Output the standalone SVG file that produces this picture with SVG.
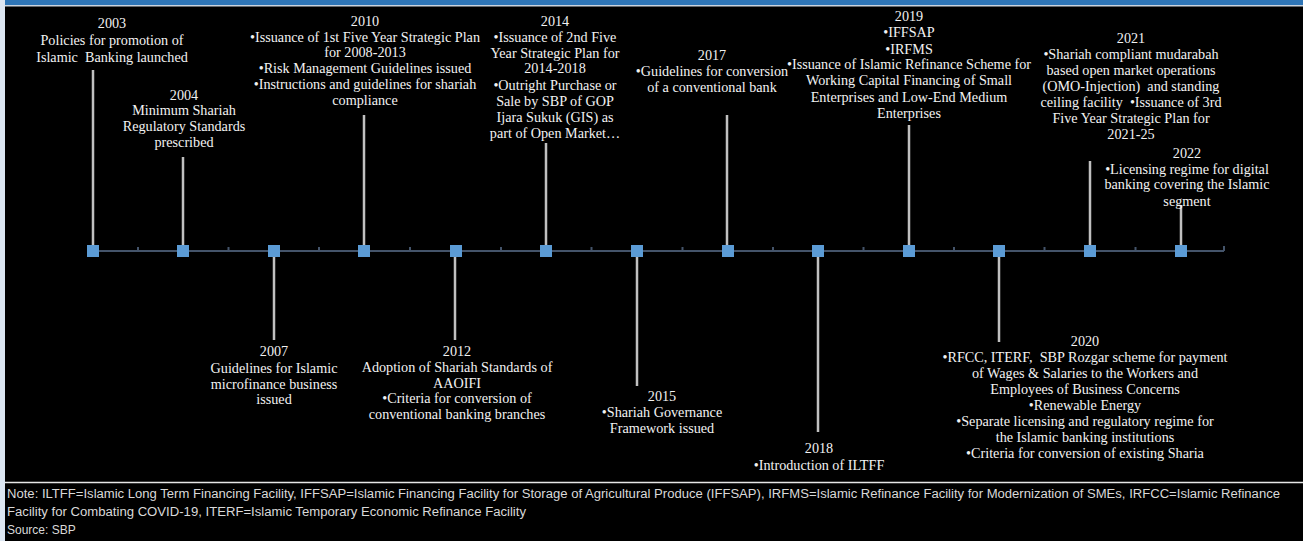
<svg xmlns="http://www.w3.org/2000/svg" width="1303" height="541" viewBox="0 0 1303 541">
<style>
.t{font-family:"Liberation Serif","Times New Roman",serif;font-size:14.2px;fill:#f2f2f2;text-anchor:middle}
.n{font-family:"Liberation Sans",Arial,sans-serif;font-size:12px;fill:#d9d9d9}
.c{stroke:#c0c0c0;stroke-width:2.5;fill:none}
.m{fill:#5b9bd5}
.ax{stroke:#44546a;stroke-width:2;fill:none}
</style>
<rect x="0" y="0" width="1303" height="541" fill="#000"/>
<rect x="0" y="0" width="5" height="541" fill="#dce6f2"/>
<rect x="5" y="0" width="1298" height="5" fill="#2e75b6"/>
<rect x="5" y="5" width="1298" height="1.5" fill="#c9d3de"/>
<line x1="5" y1="482.5" x2="1303" y2="482.5" stroke="#e6e6e6" stroke-width="1.5"/>

<g id="axis">
<path class="ax" d="M87 251H1224"/>
<path class="ax" stroke-width="1.5" d="M138 251v-4M228.5 251v-4M319 251v-4M410 251v-4M501 251v-4M591.5 251v-4M682.5 251v-4M773 251v-4M863.5 251v-4M954 251v-4M1044.5 251v-4M1135.5 251v-4M1224 251v-5"/>
</g>

<g id="connectors">
<path class="c" d="M93 70V245"/>
<path class="c" d="M183 157V245"/>
<path class="c" d="M364 115V245"/>
<path class="c" d="M546 143V245"/>
<path class="c" d="M727 115V245"/>
<path class="c" d="M909 125V245"/>
<path class="c" d="M1090 161V245"/>
<path class="c" d="M1181 205V245"/>
<path class="c" d="M274 256V340"/>
<path class="c" d="M455 256V340"/>
<path class="c" d="M637 256V386"/>
<path class="c" d="M818 256V432"/>
<path class="c" d="M999 256V342"/>
</g>

<g id="markers">
<rect class="m" x="87" y="245" width="12" height="12"/>
<rect class="m" x="177" y="245" width="12" height="12"/>
<rect class="m" x="268" y="245" width="12" height="12"/>
<rect class="m" x="358" y="245" width="12" height="12"/>
<rect class="m" x="450" y="245" width="12" height="12"/>
<rect class="m" x="540" y="245" width="12" height="12"/>
<rect class="m" x="631" y="245" width="12" height="12"/>
<rect class="m" x="722" y="245" width="12" height="12"/>
<rect class="m" x="812" y="245" width="12" height="12"/>
<rect class="m" x="903" y="245" width="12" height="12"/>
<rect class="m" x="993" y="245" width="12" height="12"/>
<rect class="m" x="1084" y="245" width="12" height="12"/>
<rect class="m" x="1175" y="245" width="12" height="12"/>
</g>

<g id="e2003"><text class="t" xml:space="preserve" x="112" y="28"><tspan x="112">2003</tspan><tspan x="112" dy="16.5">Policies for promotion of</tspan><tspan x="112" dy="17">Islamic  Banking launched</tspan></text></g>
<g id="e2004"><text class="t" x="184" y="99.5"><tspan x="184">2004</tspan><tspan x="184" dy="15.5">Minimum Shariah</tspan><tspan x="184" dy="16">Regulatory Standards</tspan><tspan x="184" dy="15.5">prescribed</tspan></text></g>
<g id="e2010"><text class="t" x="365" y="25.5"><tspan x="365">2010</tspan><tspan x="365" dy="16">•Issuance of 1st Five Year Strategic Plan</tspan><tspan x="365" dy="15.5">for 2008-2013</tspan><tspan x="365" dy="16">•Risk Management Guidelines issued</tspan><tspan x="365" dy="16">•Instructions and guidelines for shariah</tspan><tspan x="365" dy="16">compliance</tspan></text></g>
<g id="e2014"><text class="t" x="555" y="25.5"><tspan x="555">2014</tspan><tspan x="555" dy="16">•Issuance of 2nd Five</tspan><tspan x="555" dy="16">Year Strategic Plan for</tspan><tspan x="555" dy="15.5">2014-2018</tspan><tspan x="555" dy="16.5">•Outright Purchase or</tspan><tspan x="555" dy="16">Sale by SBP of GOP</tspan><tspan x="555" dy="16">Ijara Sukuk (GIS) as</tspan><tspan x="555" dy="16">part of Open Market…</tspan></text></g>
<g id="e2017"><text class="t" x="712" y="59.5"><tspan x="712">2017</tspan><tspan x="712" dy="16.5">•Guidelines for conversion</tspan><tspan x="712" dy="15.5">of a conventional bank</tspan></text></g>
<g id="e2019"><text class="t" x="909" y="20.5"><tspan x="909">2019</tspan><tspan x="909" dy="16.5">•IFFSAP</tspan><tspan x="909" dy="16.5">•IRFMS</tspan><tspan x="909" dy="15.5">•Issuance of Islamic Refinance Scheme for</tspan><tspan x="909" dy="16">Working Capital Financing of Small</tspan><tspan x="909" dy="16.5">Enterprises and Low-End Medium</tspan><tspan x="909" dy="16.5">Enterprises</tspan></text></g>
<g id="e2021"><text class="t" xml:space="preserve" x="1131" y="42.5"><tspan x="1131">2021</tspan><tspan x="1131" dy="16">•Shariah compliant mudarabah</tspan><tspan x="1131" dy="16.5">based open market operations</tspan><tspan x="1131" dy="15.5">(OMO-Injection)  and standing</tspan><tspan x="1131" dy="16">ceiling facility  •Issuance of 3rd</tspan><tspan x="1131" dy="16">Five Year Strategic Plan for</tspan><tspan x="1131" dy="16">2021-25</tspan></text></g>
<g id="e2022"><text class="t" x="1187" y="157.5"><tspan x="1187">2022</tspan><tspan x="1187" dy="16">•Licensing regime for digital</tspan><tspan x="1187" dy="15.5">banking covering the Islamic</tspan><tspan x="1187" dy="16.5">segment</tspan></text></g>
<g id="e2007"><text class="t" x="274" y="355.5"><tspan x="274">2007</tspan><tspan x="274" dy="17.5">Guidelines for Islamic</tspan><tspan x="274" dy="16">microfinance business</tspan><tspan x="274" dy="14.5">issued</tspan></text></g>
<g id="e2012"><text class="t" x="457" y="355.5"><tspan x="457">2012</tspan><tspan x="457" dy="16">Adoption of Shariah Standards of</tspan><tspan x="457" dy="16">AAOIFI</tspan><tspan x="457" dy="15.5">•Criteria for conversion of</tspan><tspan x="457" dy="16">conventional banking branches</tspan></text></g>
<g id="e2015"><text class="t" x="662" y="400.5"><tspan x="662">2015</tspan><tspan x="662" dy="16.5">•Shariah Governance</tspan><tspan x="662" dy="15.5">Framework issued</tspan></text></g>
<g id="e2018"><text class="t" x="819" y="452.5"><tspan x="819">2018</tspan><tspan x="819" dy="17.5">•Introduction of ILTFF</tspan></text></g>
<g id="e2020"><text class="t" xml:space="preserve" x="1085" y="345.5"><tspan x="1085">2020</tspan><tspan x="1085" dy="16">•RFCC, ITERF,  SBP Rozgar scheme for payment</tspan><tspan x="1085" dy="16">of Wages &amp; Salaries to the Workers and</tspan><tspan x="1085" dy="16">Employees of Business Concerns</tspan><tspan x="1085" dy="16">•Renewable Energy</tspan><tspan x="1085" dy="16">•Separate licensing and regulatory regime for</tspan><tspan x="1085" dy="16">the Islamic banking institutions</tspan><tspan x="1085" dy="16">•Criteria for conversion of existing Sharia</tspan></text></g>

<g id="note">
<text class="n" x="7" y="498" textLength="1273" lengthAdjust="spacingAndGlyphs">Note: ILTFF=Islamic Long Term Financing Facility, IFFSAP=Islamic Financing Facility for Storage of Agricultural Produce (IFFSAP), IRFMS=Islamic Refinance Facility for Modernization of SMEs, IRFCC=Islamic Refinance</text>
<text class="n" x="7" y="516" textLength="519" lengthAdjust="spacingAndGlyphs">Facility for Combating COVID-19, ITERF=Islamic Temporary Economic Refinance Facility</text>
<text class="n" x="7" y="534">Source: SBP</text>
</g>
</svg>
